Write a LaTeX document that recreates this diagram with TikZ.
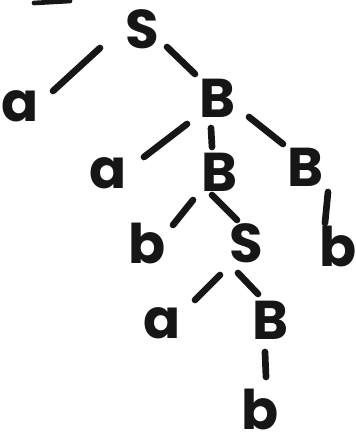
\documentclass[tikz,border=0pt]{standalone}
\usepackage{fontspec}
\setmainfont{Poppins}
\usetikzlibrary{positioning}
\definecolor{ink}{RGB}{22,22,22}

\begin{document}
\begin{tikzpicture}[
    x=0.75pt, y=-0.75pt,
    sym/.style={text=ink, font=\fontsize{41}{41}\selectfont\bfseries, inner sep=0pt},
    branch/.style={draw=ink, line width=5pt, line cap=round}
]
\useasboundingbox (0,0) rectangle (355,440);

% nodes of the tree
\node[sym] (s1) at (142,29) {S};
\node[sym] (a1) at (20,106) {a};
\node[sym] (b1) at (218,98) {B};
\node[sym] (a2) at (108,173) {a};
\node[sym] (b2) at (220,172) {B};
\node[sym] (b3) at (306,167) {B};
\node[sym] (t1) at (147,243) {b};
\node[sym] (s2) at (246,243) {S};
\node[sym] (t2) at (338,246) {b};
\node[sym] (a3) at (162,323) {a};
\node[sym] (b4) at (271,320) {B};
\node[sym] (t3) at (260,409) {b};

% branches
\draw[branch] ([shift={(-42,19)}]s1.center) -- ([shift={(33,-15)}]a1.center);
\draw[branch] ([shift={(25,18)}]s1.center) -- ([shift={(-23,-24)}]b1.center);
\draw[branch] ([shift={(-31,26)}]b1.center) -- ([shift={(36,-16)}]a2.center);
\draw[branch] ([shift={(-7,30)}]b1.center) -- ([shift={(-8,-25)}]b2.center);
\draw[branch] ([shift={(31,19)}]b1.center) -- ([shift={(-23,-23)}]b3.center);
\draw[branch] ([shift={(-27,28)}]b2.center) -- ([shift={(26,-18)}]t1.center);
\draw[branch] ([shift={(-8,23)}]b2.center) -- ([shift={(-9,-23)}]s2.center);
\draw[branch] ([shift={(22,25)}]b3.center) -- ([shift={(-13,-23)}]t2.center);
\draw[branch] ([shift={(-26,32)}]s2.center) -- ([shift={(33,-23)}]a3.center);
\draw[branch] ([shift={(-8,30)}]s2.center) -- ([shift={(-13,-26)}]b4.center);
\draw[branch] ([shift={(-6,32)}]b4.center) -- ([shift={(6,-32)}]t3.center);

% stray stroke at the top edge
\draw[ink, line width=3.5pt, line cap=round] (34,3) -- (70,1);
\end{tikzpicture}
\end{document}
